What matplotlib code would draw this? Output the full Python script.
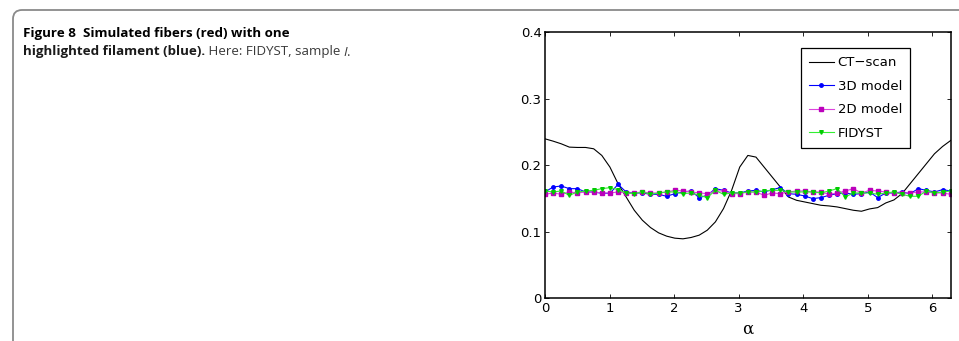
import numpy as np
import matplotlib
matplotlib.use("Agg")
import matplotlib.pyplot as plt
from matplotlib.patches import FancyBboxPatch
from matplotlib.transforms import IdentityTransform

# sample angles: 51 points over [0, 2*pi]
alpha = np.linspace(0, 2 * np.pi, 51)

ct_scan = [0.240, 0.2365, 0.2325, 0.2275, 0.227, 0.227, 0.225, 0.215, 0.1975, 0.1725,
           0.1525, 0.1325, 0.1175, 0.1065, 0.0985, 0.0935, 0.0905, 0.0895, 0.0915, 0.095,
           0.1025, 0.115, 0.135, 0.1625, 0.1975, 0.215, 0.2125, 0.1975, 0.1825, 0.1675,
           0.1525, 0.1475, 0.145, 0.1425, 0.140, 0.139, 0.1375, 0.135, 0.1325, 0.131,
           0.1345, 0.1365, 0.1435, 0.148, 0.1575, 0.1725, 0.1875, 0.2025, 0.2175, 0.2285,
           0.2375]

model_3d = [0.160, 0.1675, 0.169, 0.165, 0.165, 0.160, 0.160, 0.158, 0.158, 0.1715,
            0.160, 0.1585, 0.1585, 0.1565, 0.1565, 0.1535, 0.1575, 0.160, 0.1615, 0.1515,
            0.1550, 0.165, 0.1625, 0.1585, 0.1585, 0.1615, 0.1625, 0.160, 0.1635, 0.1665,
            0.1575, 0.1565, 0.1540, 0.150, 0.1515, 0.1550, 0.1575, 0.1585, 0.1565, 0.1575,
            0.160, 0.1515, 0.1585, 0.1585, 0.160, 0.1575, 0.165, 0.1625, 0.160, 0.1635,
            0.1615]

model_2d = [0.1565, 0.1585, 0.1565, 0.160, 0.1585, 0.160, 0.160, 0.1585, 0.1585, 0.160,
            0.1585, 0.1585, 0.160, 0.1585, 0.1585, 0.160, 0.1625, 0.1615, 0.160, 0.1585,
            0.1575, 0.1615, 0.1615, 0.1575, 0.1575, 0.160, 0.160, 0.155, 0.1585, 0.1575,
            0.160, 0.1615, 0.1615, 0.160, 0.160, 0.1565, 0.1585, 0.1615, 0.165, 0.1585,
            0.1625, 0.1615, 0.160, 0.1585, 0.1585, 0.1585, 0.160, 0.160, 0.1585, 0.1585,
            0.1565]

fidyst = [0.1615, 0.160, 0.1615, 0.155, 0.160, 0.1615, 0.1625, 0.165, 0.1665, 0.1635,
          0.1585, 0.1575, 0.160, 0.1565, 0.1585, 0.160, 0.160, 0.1575, 0.1585, 0.155,
          0.1515, 0.1625, 0.1565, 0.1585, 0.1585, 0.160, 0.160, 0.1615, 0.1625, 0.1625,
          0.160, 0.160, 0.160, 0.160, 0.1585, 0.1615, 0.165, 0.1525, 0.1585, 0.1585,
          0.1585, 0.1565, 0.1585, 0.160, 0.1565, 0.1535, 0.1535, 0.1615, 0.1585, 0.160,
          0.1615]

xticks = [0, 1, 2, 3, 4, 5, 6]
yticks = [0, 0.1, 0.2, 0.3, 0.4]

W, H = 959, 341
fig = plt.figure(figsize=(W / 100, H / 100), dpi=100)

# gray frame with rounded top-left corner
frame = FancyBboxPatch((13, -30), 1000, H - 10 + 30,
                       boxstyle="round,pad=0,rounding_size=9",
                       transform=IdentityTransform(), facecolor="none",
                       edgecolor="#8a8a8a", linewidth=1.3)
fig.add_artist(frame)

# caption
cap_font = "Open Sans"
cap_size = 9.6
x0 = 22.7 / W
fig.text(x0, 1 - 37.5 / H, "Figure 8  Simulated fibers (red) with one",
         fontsize=cap_size, fontweight="bold", family=cap_font, va="baseline")
renderer = fig.canvas.get_renderer()
y2 = 1 - 55.5 / H
parts = [("highlighted filament (blue).", "bold", "normal"),
         (" Here: FIDYST, sample ", "normal", "normal"),
         ("I", "normal", "italic"),
         (".", "normal", "normal")]
xc = x0
for txt, weight, style in parts:
    t = fig.text(xc, y2, txt, fontsize=cap_size, fontweight=weight, style=style,
                 family=cap_font, va="baseline", color="#1a1a1a" if weight == "bold" else "#3a3a3a")
    bb = t.get_window_extent(renderer)
    xc = bb.x1 / W

ax = fig.add_axes([545 / W, 1 - 298.3 / H, (950.7 - 545) / W, (298.3 - 32.5) / H])

ax.plot(alpha, ct_scan, color="black", linewidth=0.8, label="CT\u2212scan")
ax.plot(alpha, model_3d, color="#0000ff", linewidth=0.8, marker="o", markersize=2.5,
        label="3D model")
ax.plot(alpha, model_2d, color="#dd44dd", linewidth=0.8, marker="s", markersize=2.6,
        markerfacecolor="#bb00bb", markeredgecolor="#bb00bb", label="2D model")
ax.plot(alpha, fidyst, color="#33ee33", linewidth=0.8, marker="v", markersize=2.6,
        markerfacecolor="#00cc00", markeredgecolor="#00cc00", label="FIDYST")

ax.set_xlim(0, 2 * np.pi)
ax.set_ylim(0, 0.4)
ax.set_xticks(xticks)
ax.set_yticks(yticks)
ax.set_xticklabels([str(v) for v in xticks])
ax.set_yticklabels(["0", "0.1", "0.2", "0.3", "0.4"])
tick_font = "DejaVu Sans"
for lab in ax.get_xticklabels() + ax.get_yticklabels():
    lab.set_family(tick_font)
    lab.set_fontsize(9.5)
ax.tick_params(direction="in", top=True, right=True, length=3, width=0.6,
               pad=2.5)
for s in ax.spines.values():
    s.set_linewidth(1.1)
ax.set_xlabel("\u03b1", fontsize=12, family="DejaVu Serif", labelpad=4)

leg = ax.legend(loc="upper right", bbox_to_anchor=((910 - 545) / (950.7 - 545), (298.3 - 48.3) / (298.3 - 32.5)),
                prop={"family": tick_font, "size": 9.5}, fancybox=False,
                edgecolor="black", framealpha=1, handlelength=1.9, handletextpad=0.3,
                labelspacing=0.8, borderpad=0.6, borderaxespad=0)
leg.get_frame().set_linewidth(0.9)

fig.savefig("out.png", dpi=100)
